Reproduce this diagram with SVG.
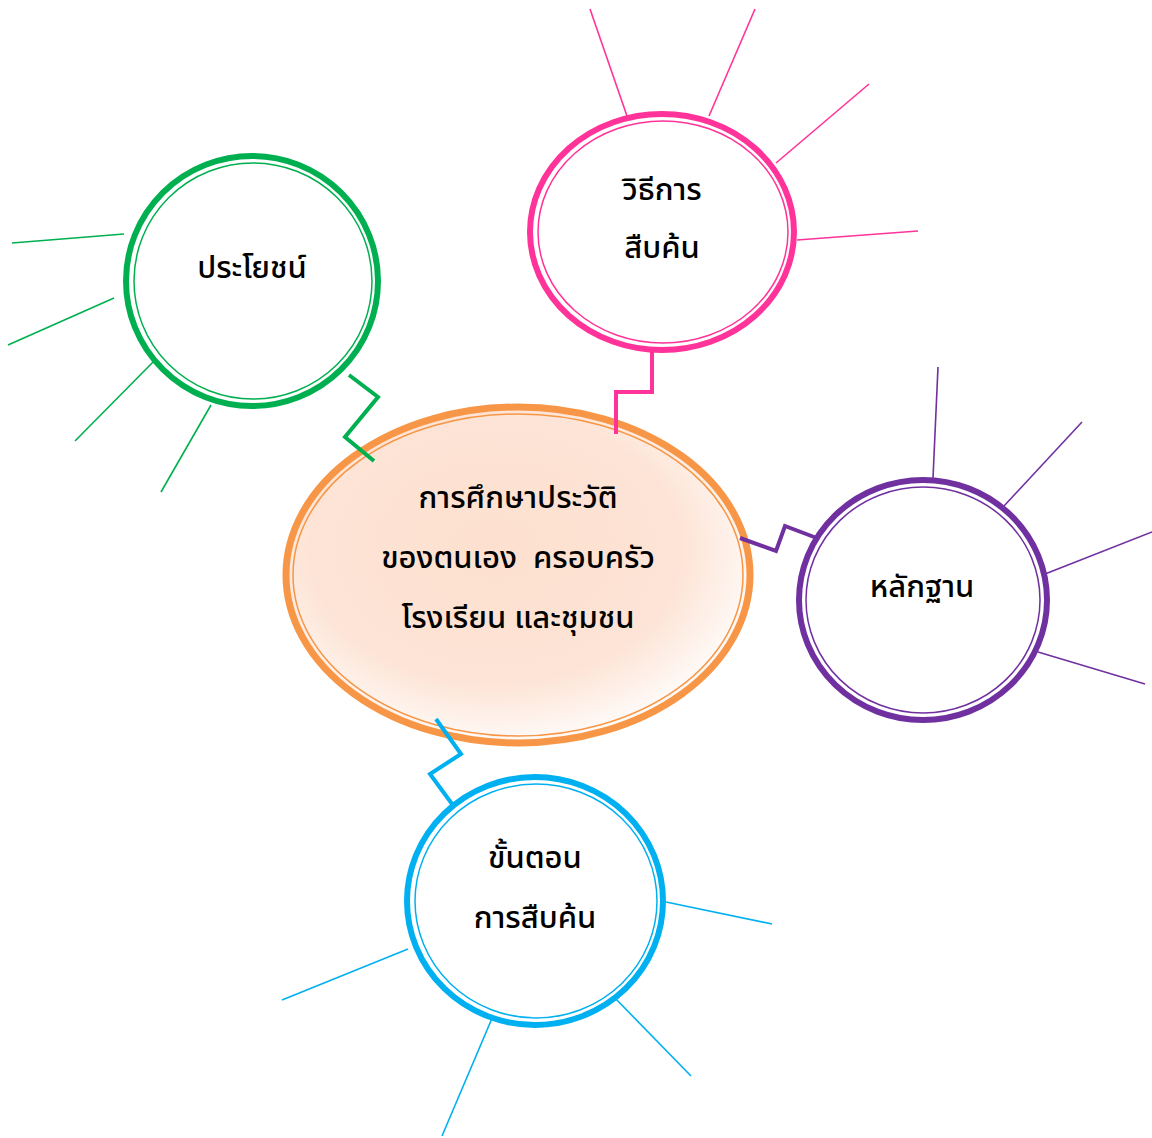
<svg xmlns="http://www.w3.org/2000/svg" width="1152" height="1138" viewBox="0 0 1152 1138">
<defs>
<radialGradient id="peach" cx="0.45" cy="0.42" r="0.62">
<stop offset="0" stop-color="#fde0cf"/>
<stop offset="0.65" stop-color="#fde4d6"/>
<stop offset="1" stop-color="#ffffff"/>
</radialGradient>
</defs>
<style>
.t{font-family:"Noto Sans Thai","Noto Sans","DejaVu Sans",sans-serif;font-size:31px;fill:#000;text-anchor:middle;font-weight:500}
.ray{fill:none;stroke-width:1.6}
.con{fill:none;stroke-width:4}
.g{stroke:#00b050}.p{stroke:#ff3399}.v{stroke:#7030a0}.b{stroke:#00b0f0}.o{stroke:#f79646}
</style>
<rect width="1152" height="1138" fill="#fff"/>
<g id="rays">
<line class="ray g" x1="12" y1="243" x2="124" y2="234"/>
<line class="ray g" x1="8" y1="345" x2="114" y2="298"/>
<line class="ray g" x1="75" y1="441" x2="157" y2="358"/>
<line class="ray g" x1="161" y1="492" x2="211" y2="405"/>
<line class="ray p" x1="590" y1="9" x2="627" y2="116"/>
<line class="ray p" x1="755" y1="9" x2="709" y2="116"/>
<line class="ray p" x1="869" y1="84" x2="776" y2="163"/>
<line class="ray p" x1="918" y1="231" x2="797" y2="240"/>
<line class="ray v" x1="938" y1="367" x2="933" y2="478"/>
<line class="ray v" x1="1082" y1="422" x2="1004" y2="506"/>
<line class="ray v" x1="1152" y1="532" x2="1045" y2="574"/>
<line class="ray v" x1="1145" y1="684" x2="1038" y2="652"/>
<line class="ray b" x1="772" y1="924" x2="666" y2="902"/>
<line class="ray b" x1="691" y1="1076" x2="613" y2="996"/>
<line class="ray b" x1="442" y1="1136" x2="493" y2="1016"/>
<line class="ray b" x1="282" y1="1000" x2="408" y2="949"/>
</g>
<g id="center">
<ellipse cx="518" cy="575" rx="232" ry="168" fill="url(#peach)" stroke="#f79646" stroke-width="7"/>
<ellipse cx="518" cy="575" rx="225" ry="161" fill="none" stroke="#f79646" stroke-width="1.5"/>
<text class="t" x="518" y="508">การศึกษาประวัติ</text>
<text class="t" x="518" y="568" xml:space="preserve">ของตนเอง  ครอบครัว</text>
<text class="t" x="518" y="628">โรงเรียน และชุมชน</text>
</g>
<g id="connectors">
<polyline class="con g" points="349,375 378,397 345,437 374,461"/>
<polyline class="con p" points="652,352 652,392 616,392 616,434"/>
<polyline class="con v" points="740,538 776,551 785,526 822,540"/>
<polyline class="con b" points="436,719 461,754 430,774 455,808"/>
</g>
<g id="benefit">
<ellipse cx="252" cy="281" rx="126" ry="125" fill="#fff" stroke="#00b050" stroke-width="6"/>
<ellipse cx="253" cy="281" rx="119" ry="118" fill="none" stroke="#00b050" stroke-width="1.5"/>
<text class="t" x="252" y="278">ประโยชน์</text>
</g>
<g id="method">
<ellipse cx="662" cy="232" rx="132" ry="118" fill="#fff" stroke="#ff3399" stroke-width="6"/>
<ellipse cx="663" cy="232" rx="125" ry="111" fill="none" stroke="#ff3399" stroke-width="1.5"/>
<text class="t" x="662" y="200">วิธีการ</text>
<text class="t" x="662" y="258">สืบค้น</text>
</g>
<g id="evidence">
<ellipse cx="923" cy="600" rx="124" ry="120" fill="#fff" stroke="#7030a0" stroke-width="6"/>
<ellipse cx="923" cy="600" rx="117" ry="113" fill="none" stroke="#7030a0" stroke-width="1.5"/>
<text class="t" x="922" y="597">หลักฐาน</text>
</g>
<g id="steps">
<ellipse cx="535" cy="901" rx="128" ry="124" fill="#fff" stroke="#00b0f0" stroke-width="6"/>
<ellipse cx="536" cy="901" rx="121" ry="117" fill="none" stroke="#00b0f0" stroke-width="1.5"/>
<text class="t" x="535" y="868">ขั้นตอน</text>
<text class="t" x="535" y="928">การสืบค้น</text>
</g>
</svg>
